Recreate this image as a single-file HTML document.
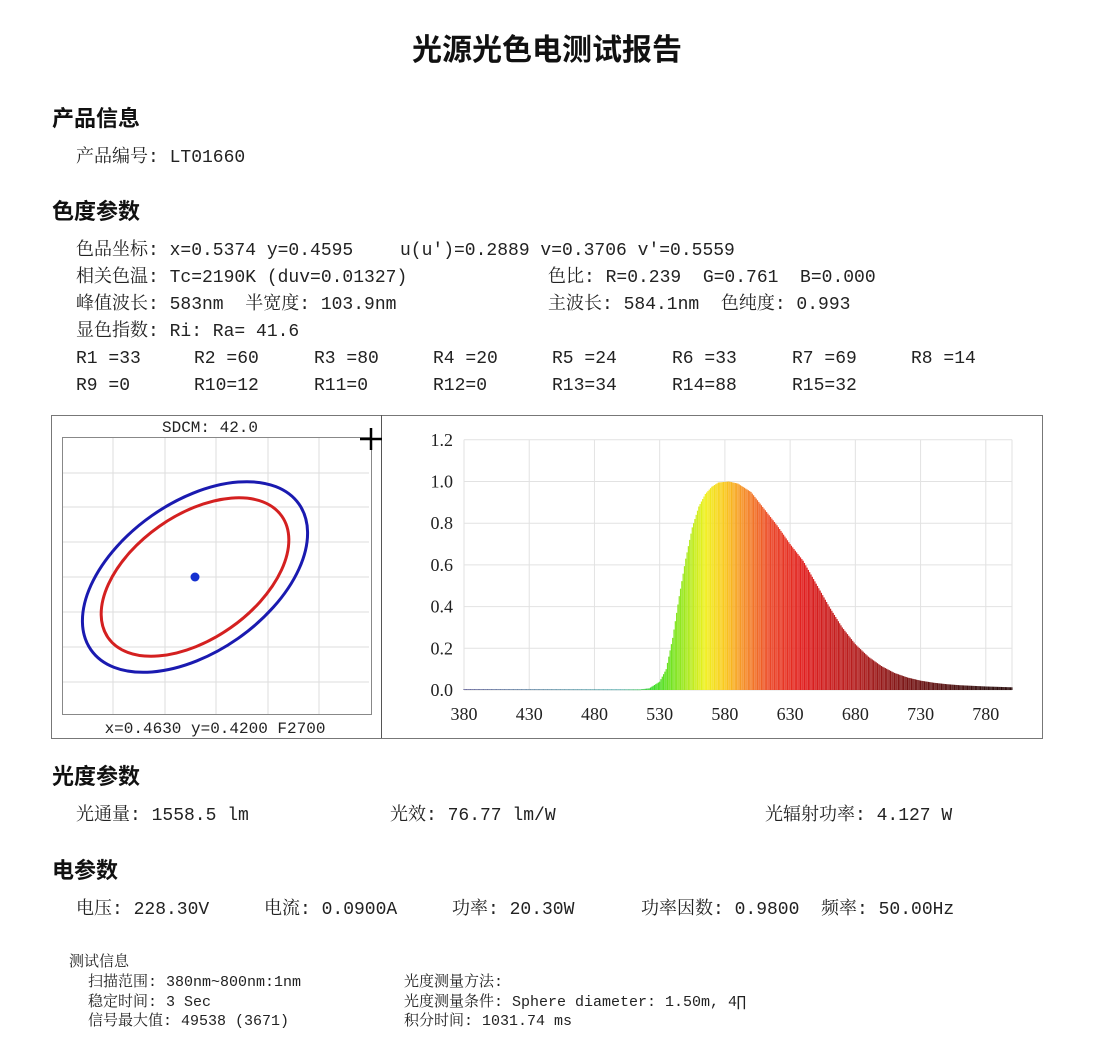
<!DOCTYPE html>
<html><head><meta charset="utf-8"><style>
body{margin:0;background:#fff;width:1109px;height:1060px;position:relative;overflow:hidden;font-family:"Liberation Mono","Noto Serif CJK SC","Noto Sans CJK SC",monospace;color:#222}
.t{position:absolute;white-space:pre;line-height:1}
.b{font-size:18px}
.h{font-size:22px;font-family:"Liberation Sans","Noto Sans CJK SC",sans-serif;font-weight:bold;color:#111}
.s{font-size:15px}
</style></head><body>
<div class="t" style="left:0;width:1094px;text-align:center;top:36px;font-size:30px;font-weight:bold;font-family:'Liberation Sans','Noto Sans CJK SC',sans-serif;color:#111">光源光色电测试报告</div>
<div class="t h" style="left:52px;top:108px">产品信息</div>
<div class="t b" style="left:76px;top:149px">产品编号: LT01660</div>
<div class="t h" style="left:52px;top:201px">色度参数</div>
<div class="t b" style="left:76px;top:242px">色品坐标: x=0.5374 y=0.4595</div>
<div class="t b" style="left:400px;top:242px">u(u')=0.2889 v=0.3706 v'=0.5559</div>
<div class="t b" style="left:76px;top:269px">相关色温: Tc=2190K (duv=0.01327)</div>
<div class="t b" style="left:548px;top:269px">色比: R=0.239  G=0.761  B=0.000</div>
<div class="t b" style="left:76px;top:296px">峰值波长: 583nm  半宽度: 103.9nm</div>
<div class="t b" style="left:548px;top:296px">主波长: 584.1nm  色纯度: 0.993</div>
<div class="t b" style="left:76px;top:323px">显色指数: Ri: Ra= 41.6</div>
<div class="t b" style="left:76px;top:350px">R1 =33</div><div class="t b" style="left:194px;top:350px">R2 =60</div><div class="t b" style="left:314px;top:350px">R3 =80</div><div class="t b" style="left:433px;top:350px">R4 =20</div><div class="t b" style="left:552px;top:350px">R5 =24</div><div class="t b" style="left:672px;top:350px">R6 =33</div><div class="t b" style="left:792px;top:350px">R7 =69</div><div class="t b" style="left:911px;top:350px">R8 =14</div>
<div class="t b" style="left:76px;top:377px">R9 =0</div><div class="t b" style="left:194px;top:377px">R10=12</div><div class="t b" style="left:314px;top:377px">R11=0</div><div class="t b" style="left:433px;top:377px">R12=0</div><div class="t b" style="left:552px;top:377px">R13=34</div><div class="t b" style="left:672px;top:377px">R14=88</div><div class="t b" style="left:792px;top:377px">R15=32</div>

<svg style="position:absolute;left:0;top:0" width="1109" height="1060" id="sv">
<rect x="51.5" y="415.5" width="991" height="323" fill="none" stroke="#777" stroke-width="1"/>
<line x1="381.5" y1="415" x2="381.5" y2="738" stroke="#555"/>
<g stroke="#ddd" stroke-width="1">
<line x1="113" y1="438" x2="113" y2="715"/><line x1="165" y1="438" x2="165" y2="715"/><line x1="216" y1="438" x2="216" y2="715"/><line x1="268" y1="438" x2="268" y2="715"/><line x1="319" y1="438" x2="319" y2="715"/>
<line x1="63" y1="473" x2="369" y2="473"/><line x1="63" y1="507" x2="369" y2="507"/><line x1="63" y1="542" x2="369" y2="542"/><line x1="63" y1="577" x2="369" y2="577"/><line x1="63" y1="612" x2="369" y2="612"/><line x1="63" y1="647" x2="369" y2="647"/><line x1="63" y1="682" x2="369" y2="682"/>
</g>
<rect x="62.5" y="437.5" width="309" height="277" fill="none" stroke="#888"/>
<ellipse cx="195" cy="577" rx="127" ry="75" transform="rotate(-35 195 577)" fill="none" stroke="#1a1ab0" stroke-width="3"/>
<ellipse cx="195" cy="577" rx="106" ry="62" transform="rotate(-35 195 577)" fill="none" stroke="#d42020" stroke-width="3"/>
<circle cx="195" cy="577" r="4.5" fill="#1530d0"/>
<path d="M371 428V450M360 439H382" stroke="#000" stroke-width="2.5"/>
<text x="210" y="432" font-size="16" text-anchor="middle" font-family="Liberation Mono,monospace" fill="#222">SDCM:  42.0</text>
<text x="215" y="733" font-size="16" text-anchor="middle" font-family="Liberation Mono,monospace" fill="#222">x=0.4630 y=0.4200 F2700</text>
<g id="grid" stroke="#e2e2e2" stroke-width="1"></g>
<g id="bars"></g>
<g id="lab" font-size="18" font-family="Liberation Serif,serif" fill="#222"></g>
</svg>

<div class="t h" style="left:52px;top:766px">光度参数</div>
<div class="t b" style="left:76px;top:807px">光通量: 1558.5 lm</div>
<div class="t b" style="left:390px;top:807px">光效: 76.77 lm/W</div>
<div class="t b" style="left:765px;top:807px">光辐射功率: 4.127 W</div>
<div class="t h" style="left:52px;top:860px">电参数</div>
<div class="t b" style="left:76px;top:901px">电压: 228.30V</div>
<div class="t b" style="left:264px;top:901px">电流: 0.0900A</div>
<div class="t b" style="left:452px;top:901px">功率: 20.30W</div>
<div class="t b" style="left:641px;top:901px">功率因数: 0.9800  频率: 50.00Hz</div>
<div class="t s" style="left:69px;top:955px">测试信息</div>
<div class="t s" style="left:88px;top:975px">扫描范围: 380nm~800nm:1nm</div>
<div class="t s" style="left:88px;top:995px">稳定时间: 3 Sec</div>
<div class="t s" style="left:88px;top:1014px">信号最大值: 49538 (3671)</div>
<div class="t s" style="left:404px;top:975px">光度测量方法:</div>
<div class="t s" style="left:404px;top:995px">光度测量条件: Sphere diameter: 1.50m, 4∏</div>
<div class="t s" style="left:404px;top:1014px">积分时间: 1031.74 ms</div>
<script>
var NS="http://www.w3.org/2000/svg";
function el(p,t,a,txt){var e=document.createElementNS(NS,t);for(var k in a)e.setAttribute(k,a[k]);if(txt)e.textContent=txt;p.appendChild(e);return e;}
var X=function(nm){return 464+(nm-380)*1.3045;}, Y=function(v){return 690-v*208.5;};
var g=document.getElementById('grid'),b=document.getElementById('bars'),l=document.getElementById('lab');
for(var i=0;i<=8;i++){var x=X(380+i*50);el(g,'line',{x1:x,y1:Y(1.2),x2:x,y2:690});el(l,'text',{x:x,y:720,'text-anchor':'middle'},String(380+i*50));}
for(var j=0;j<=6;j++){var y=Y(j*0.2);el(g,'line',{x1:X(380),y1:y,x2:1012,y2:y});el(l,'text',{x:453,y:y+6,'text-anchor':'end'},(j*0.2).toFixed(1));}
el(g,'line',{x1:1012,y1:Y(1.2),x2:1012,y2:690});
var T=[[380,0.004],[515,0.003],[522,0.008],[530,0.04],[535,0.1],[540,0.25],[545,0.45],[550,0.63],[555,0.78],[560,0.88],[565,0.94],[570,0.975],[575,0.995],[583,1.0],[590,0.99],[600,0.95],[610,0.87],[620,0.79],[630,0.70],[640,0.62],[650,0.51],[660,0.40],[670,0.30],[680,0.22],[690,0.16],[700,0.115],[710,0.082],[720,0.06],[730,0.045],[740,0.035],[750,0.028],[760,0.023],[770,0.02],[780,0.017],[790,0.015],[800,0.013]];
function val(n){for(var k=0;k<T.length-1;k++){if(n<=T[k+1][0]){var f=(n-T[k][0])/(T[k+1][0]-T[k][0]);return T[k][1]+(T[k+1][1]-T[k][1])*f;}}return 0.013;}
var C=[[380,[80,80,140]],[500,[60,160,160]],[525,[60,220,40]],[545,[140,230,30]],[565,[240,240,30]],[580,[250,200,30]],[595,[245,140,40]],[615,[235,70,40]],[640,[225,30,30]],[680,[180,30,30]],[720,[120,20,20]],[780,[50,15,15]],[800,[40,10,10]]];
function col(n){for(var k=0;k<C.length-1;k++){if(n<=C[k+1][0]){var f=(n-C[k][0])/(C[k+1][0]-C[k][0]);var a=C[k][1],c=C[k+1][1];return 'rgb('+[0,1,2].map(function(i){return Math.round(a[i]+(c[i]-a[i])*f)}).join(',')+')';}}return 'rgb(40,10,10)';}
for(var n=380;n<=800;n++){var v=val(n);var x0=X(n);el(b,'rect',{x:x0-0.6,y:Y(v),width:1.2,height:Math.max(690-Y(v),0.8),fill:col(n)});}
</script>
</body></html>
